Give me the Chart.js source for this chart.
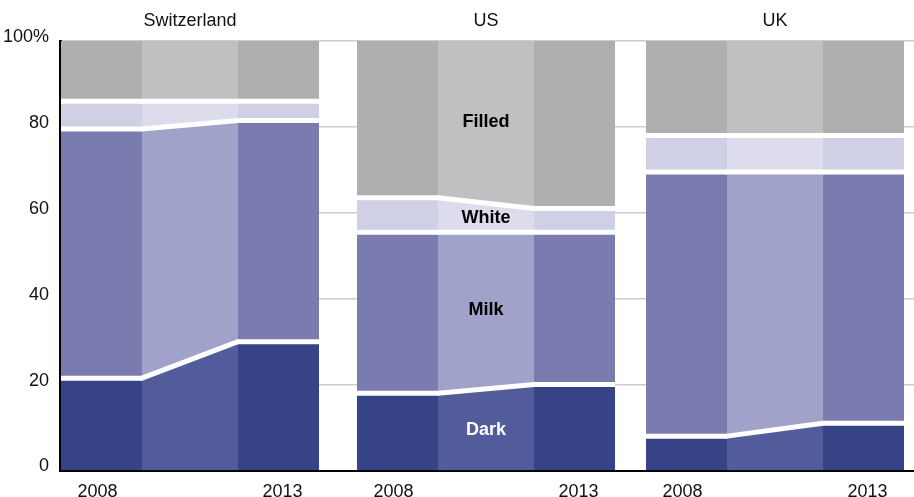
<!DOCTYPE html>
<html>
<head>
<meta charset="utf-8">
<title>Chocolate sales by type</title>
<script src="https://cdn.jsdelivr.net/npm/chart.js@4.4.1/dist/chart.umd.min.js"></script>
<style>
  html, body { margin: 0; padding: 0; background: #fff; }
  #chart { display: block; }
</style>
</head>
<body>
<canvas id="chart" width="914" height="497"></canvas>
<script>
// Share of chocolate sales by type, % of total, 2008 and 2013
const countries = ['Switzerland', 'US', 'UK'];
const years = ['2008', '2013'];
const layerNames = ['Dark', 'Milk', 'White', 'Filled'];
const dark = [[21.5, 30], [18, 20], [8, 11]];
const milk = [[58, 51.5], [37.5, 35.5], [61.5, 58.5]];
const white = [[6.5, 4.5], [8, 5.5], [8.5, 8.5]];
const filled = [[14, 14], [36.5, 39], [22, 22]];
const yTicks = [0, 20, 40, 60, 80, 100];
const yTickLabels = ['0', '20', '40', '60', '80', '100%'];
const labelledCountry = 'US';

// Layout: each country gets a 2008 bar, a connecting band, then a 2013 bar
const panelStart = [1, 297, 586];
const barWidth = 81;
const bandWidth = 96;
const xMax = 854;

const layers = [dark, milk, white, filled];
const barColors = ['#364487', '#7a7caf', '#cfd0e5', '#afafb0'];
const bandColors = ['#535c9a', '#a1a2c9', '#dcdcec', '#c0c0c2'];
const fontFamily = '"Liberation Sans", Arial, sans-serif';

function panelXs(p) {
    const x0 = panelStart[p];
    return [x0, x0 + barWidth, x0 + barWidth + bandWidth, x0 + 2 * barWidth + bandWidth];
}

// one stacked, filled line per layer and country
const datasets = [];
countries.forEach((country, p) => {
    const xs = panelXs(p);
    layers.forEach((layer, l) => {
        const [v08, v13] = layer[p];
        datasets.push({
            label: country + ' ' + layerNames[l],
            stack: country,
            data: [
                { x: xs[0], y: v08 }, { x: xs[1], y: v08 },
                { x: xs[2], y: v13 }, { x: xs[3], y: v13 }
            ],
            fill: l === 0 ? 'origin' : '-1',
            backgroundColor: barColors[l],
            borderColor: '#ffffff',
            borderWidth: l === layers.length - 1 ? 0 : 5,
            pointRadius: 0,
            tension: 0,
            segment: {
                backgroundColor: ctx => ctx.p0DataIndex === 1 ? bandColors[l] : barColors[l],
                borderCapStyle: ctx => ctx.p0DataIndex === 1 ? 'round' : 'butt'
            }
        });
    });
});

// year ticks sit under the middle of each bar
const yearTickXs = [];
countries.forEach((c, p) => {
    const xs = panelXs(p);
    yearTickXs.push((xs[0] + xs[1]) / 2 - 4, (xs[2] + xs[3]) / 2 + 4);
});

// country titles and the layer names in the US band
const panelText = {
    id: 'panelText',
    afterDatasetsDraw(chart) {
        const { ctx, chartArea, scales: { x, y } } = chart;
        ctx.save();
        ctx.textAlign = 'center';
        ctx.textBaseline = 'middle';
        ctx.font = '18px ' + fontFamily;
        ctx.fillStyle = '#111';
        countries.forEach((c, p) => {
            const xs = panelXs(p);
            ctx.fillText(c, x.getPixelForValue((xs[0] + xs[3]) / 2), chartArea.top - 20);
        });

        const p = countries.indexOf(labelledCountry);
        const xs = panelXs(p);
        const cx = x.getPixelForValue((xs[1] + xs[2]) / 2);
        ctx.font = 'bold 18px ' + fontFamily;
        let base08 = 0, base13 = 0;
        layers.forEach((layer, l) => {
            const [v08, v13] = layer[p];
            const mid = (base08 + v08 / 2 + base13 + v13 / 2) / 2;
            ctx.fillStyle = l === 0 ? '#ffffff' : '#000000';
            ctx.fillText(layerNames[l], cx, y.getPixelForValue(mid));
            base08 += v08;
            base13 += v13;
        });
        ctx.restore();
    }
};

const chart = new Chart(document.getElementById('chart').getContext('2d'), {
    type: 'line',
    data: { datasets: datasets },
    options: {
        responsive: false,
        animation: false,
        devicePixelRatio: 1,
        layout: { padding: { top: 41, left: 0, right: 0, bottom: 0 } },
        plugins: {
            legend: { display: false },
            tooltip: { enabled: false }
        },
        scales: {
            x: {
                type: 'linear',
                min: 0,
                max: xMax,
                grid: { display: false },
                border: { display: true, color: '#000000', width: 2 },
                afterBuildTicks: scale => { scale.ticks = yearTickXs.map(v => ({ value: v })); },
                afterFit: scale => { scale.height = 26.5; },
                ticks: {
                    autoSkip: false,
                    maxRotation: 0,
                    padding: 3,
                    color: '#111',
                    font: { family: fontFamily, size: 18 },
                    callback: (v, i) => years[i % 2]
                }
            },
            y: {
                stacked: true,
                min: 0,
                max: 100,
                afterBuildTicks: scale => { scale.ticks = yTicks.map(v => ({ value: v })); },
                afterFit: scale => { scale.width = 60; },
                grid: {
                    color: ctx => ctx.tick && ctx.tick.value === 0 ? 'rgba(0,0,0,0)' : '#cccccc',
                    lineWidth: 1.5,
                    drawTicks: false
                },
                border: { display: true, color: '#000000', width: 3 },
                ticks: {
                    padding: 11,
                    labelOffset: -4,
                    color: '#111',
                    font: { family: fontFamily, size: 18 },
                    callback: (v, i) => yTickLabels[i]
                }
            }
        }
    },
    plugins: [panelText]
});
</script>
</body>
</html>
